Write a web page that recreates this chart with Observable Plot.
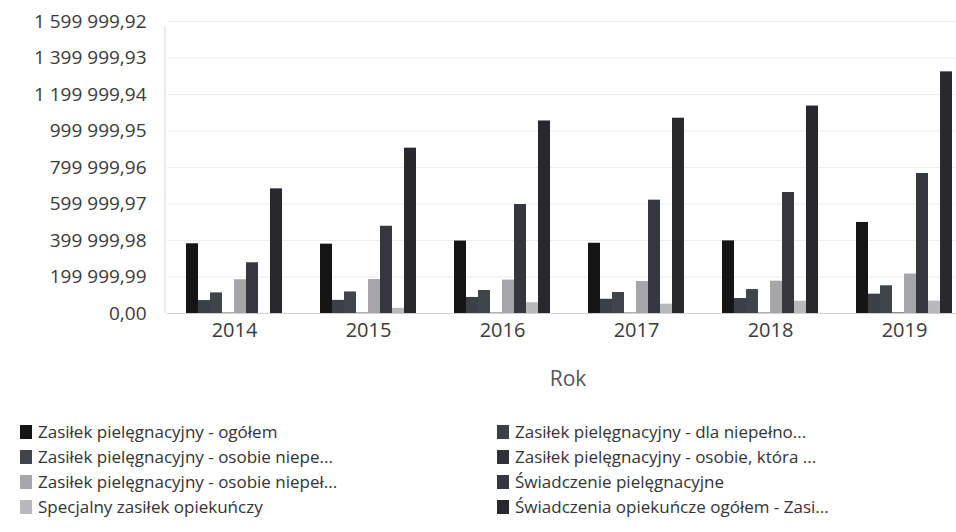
<!DOCTYPE html>
<html>
<head>
<meta charset="utf-8">
<script src="https://cdn.jsdelivr.net/npm/d3@7"></script>
<script src="https://cdn.jsdelivr.net/npm/@observablehq/plot@0.6"></script>
<style>
  html, body { margin: 0; padding: 0; background: #fff; overflow: hidden; }
  body { width: 956px; height: 532px; font-family: "Open Sans", sans-serif; color: #3a3a3a; }
  #chart svg { display: block; overflow: hidden; }
  #xlabel { height: 46px; line-height: 46px; font-size: 21px; color: #555; text-align: center; padding-left: 180px; width: 776px; }
  #legend { margin-top: 18px; display: grid; grid-template-columns: 477px 479px; grid-auto-rows: 25px; }
  .item { display: flex; align-items: center; font-size: 17px; color: #333; white-space: nowrap; }
  .sw { width: 12px; height: 14px; margin-right: 6px; flex: none; }
  .col0 { padding-left: 20px; }
  .col1 { padding-left: 20px; }
</style>
</head>
<body>
<div id="chart"></div>
<div id="xlabel">Rok</div>
<div id="legend"></div>
<script>
const years = [2014, 2015, 2016, 2017, 2018, 2019];
const seriesNames = [
  "Zasiłek pielęgnacyjny - ogółem",
  "Zasiłek pielęgnacyjny - dla niepełno...",
  "Zasiłek pielęgnacyjny - osobie niepe...",
  "Zasiłek pielęgnacyjny - osobie, która ...",
  "Zasiłek pielęgnacyjny -  osobie niepeł...",
  "Świadczenie pielęgnacyjne",
  "Specjalny zasiłek opiekuńczy",
  "Świadczenia opiekuńcze ogółem - Zasi..."
];
const seriesColors = ["#151515", "#3b3f46", "#40444b", "#2e3136", "#a6a6a8", "#34373d", "#b9b9bb", "#27292d"];
const s1 = [382000, 380000, 397000, 385000, 398000, 499000];
const s2 = [71000, 72000, 88000, 78000, 82000, 106000];
const s3 = [113000, 118000, 126000, 115000, 131000, 152000];
const s4 = [2000, 2000, 2000, 2000, 2000, 3000];
const s5 = [185000, 186000, 183000, 175000, 177000, 216000];
const s6 = [278000, 478000, 597000, 621000, 663000, 767000];
const s7 = [0, 28000, 59000, 51000, 67000, 68000];
const s8 = [683000, 906000, 1055000, 1070000, 1137000, 1324000];
const yTicks = [0, 199999.99, 399999.98, 599999.97, 799999.96, 999999.95, 1199999.94, 1399999.93, 1599999.92];

const allSeries = [s1, s2, s3, s4, s5, s6, s7, s8];
const data = [];
years.forEach((yr, i) => {
  allSeries.forEach((s, k) => data.push({year: yr, series: seriesNames[k], value: s[i]}));
});

const pl = d3.formatLocale({decimal: ",", thousands: "\u00a0", grouping: [3], currency: ["", ""]});
const fmt = pl.format(",.2f");

const plot = Plot.plot({
  width: 956,
  height: 355,
  marginTop: 21,
  marginBottom: 42,
  marginLeft: 165,
  marginRight: 0,
  style: {fontFamily: "Open Sans, sans-serif", fontSize: "19px", color: "#3a3a3a", background: "#fff"},
  fx: {domain: years, range: [165, 972], padding: 0, label: null, tickSize: 0, tickPadding: 9, axis: "bottom", tickFormat: d => String(d)},
  x: {domain: seriesNames, axis: null, paddingInner: 0, paddingOuter: 1.3},
  y: {domain: [0, 1599999.92], ticks: yTicks, tickFormat: fmt, tickSize: 0, tickPadding: 21, label: null},
  color: {domain: seriesNames, range: seriesColors},
  marks: [
    Plot.ruleY(yTicks.slice(1), {stroke: "#ececec", strokeWidth: 1}),
    Plot.ruleY([0], {stroke: "#cfcfcf", strokeWidth: 1}),
    Plot.barY(data, {fx: "year", x: "series", y: "value", fill: "series"})
  ]
});
document.getElementById("chart").appendChild(plot);

// fx tick labels slightly larger
d3.select(plot).selectAll('g[aria-label="fx-axis tick label"] text, g[aria-label="fx-axis"] text').style("font-size", "20px");

// faint y axis line at left edge of the plot area
const ys = plot.scale("y");
const fxs = plot.scale("fx");
d3.select(plot).append("line")
  .attr("x1", fxs.range[0]).attr("x2", fxs.range[0])
  .attr("y1", ys.apply(1599999.92) + 6).attr("y2", ys.apply(0))
  .attr("stroke", "#d6d6d6");

// legend (row-major, 2 columns)
const leg = d3.select("#legend");
seriesNames.forEach((n, k) => {
  const it = leg.append("div").attr("class", "item col" + (k % 2));
  it.append("div").attr("class", "sw").style("background", seriesColors[k]);
  it.append("span").text(n);
});
</script>
</body>
</html>
